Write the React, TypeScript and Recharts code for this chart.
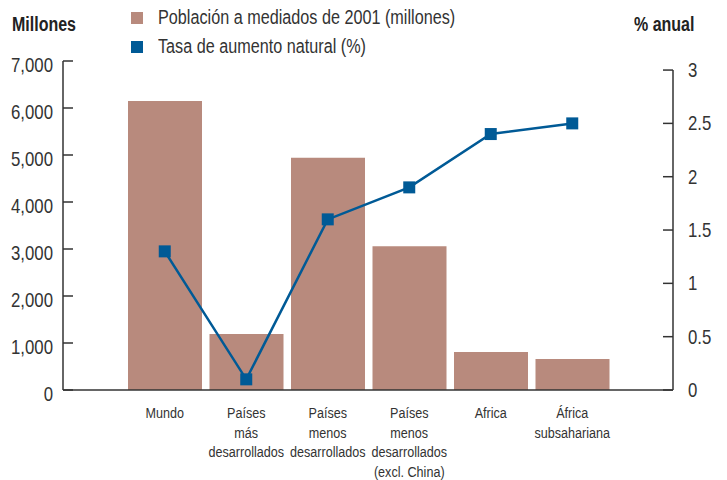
import React from 'react'
import { ComposedChart, Bar, Line, XAxis, YAxis, Legend } from 'recharts'

const categories = [
  'Mundo',
  'Países\nmás\ndesarrollados',
  'Países\nmenos\ndesarrollados',
  'Países\nmenos\ndesarrollados\n(excl. China)',
  'Africa',
  'África\nsubsahariana',
]
const poblacion = [6150, 1190, 4940, 3060, 810, 660]
const tasa = [1.3, 0.1, 1.6, 1.9, 2.4, 2.5]

const millonesTicks = [0, 1000, 2000, 3000, 4000, 5000, 6000, 7000]
const tasaTicks = [0, 0.5, 1, 1.5, 2, 2.5, 3]

const WIDTH = 727
const HEIGHT = 480
const X_AXIS_H = 90
const PLOT_BOTTOM = HEIGHT - X_AXIS_H

// no condensed face is installed, so Liberation Sans is squeezed horizontally
const FONT = "'Liberation Sans', Arial, sans-serif"
const SQUEEZE = 0.84
const TEXT = '#333'
const AXIS = '#333'
const BAR_COLOR = '#b88a7d'
const LINE_COLOR = '#005a96'

const data = categories.map((name, i) => ({
  name,
  poblacion: poblacion[i],
  tasa: tasa[i],
}))

const fmtMiles = (v: number) => v.toLocaleString('en-US')

function Narrow({ x, y, anchor, size, children }: any) {
  return (
    <text
      transform={`translate(${x},${y}) scale(${SQUEEZE},1)`}
      textAnchor={anchor}
      fill={TEXT}
      fontSize={size}
      fontFamily={FONT}
    >
      {children}
    </text>
  )
}

function LeftTick({ x, y, payload }: any) {
  // tick marks point into the plot
  return (
    <g>
      <line x1={x + 10} y1={y} x2={x + 20} y2={y} stroke={AXIS} strokeWidth={1.5} />
      <Narrow x={x} y={y + 11} anchor="end" size={20}>
        {fmtMiles(payload.value)}
      </Narrow>
    </g>
  )
}

function RightTick({ x, y, payload }: any) {
  const axisX = x - 15
  return (
    <g>
      {payload.value === tasaTicks[tasaTicks.length - 1] && (
        <line x1={axisX} y1={y} x2={axisX} y2={PLOT_BOTTOM} stroke={AXIS} strokeWidth={1.5} />
      )}
      <line x1={axisX - 10} y1={y} x2={axisX} y2={y} stroke={AXIS} strokeWidth={1.5} />
      <Narrow x={x} y={y + 7} anchor="start" size={20}>
        {payload.value}
      </Narrow>
    </g>
  )
}

function CategoryTick({ x, y, payload }: any) {
  const lines = String(payload.value).split('\n')
  return (
    <g>
      {lines.map((l, i) => (
        <Narrow key={i} x={x} y={y + 28 + i * 19.5} anchor="middle" size={15}>
          {l}
        </Narrow>
      ))}
    </g>
  )
}

function SquareDot({ cx, cy }: any) {
  if (cx == null || cy == null) return null
  return <rect x={cx - 6} y={cy - 6} width={12} height={12} fill={LINE_COLOR} />
}

function LegendBox({ payload }: any) {
  return (
    <div style={{ fontFamily: FONT, fontSize: 20, color: TEXT }}>
      {(payload || []).map((entry: any) => (
        <div key={entry.value} style={{ display: 'flex', alignItems: 'center', height: 29 }}>
          <span style={{ width: 12, height: 12, background: entry.color, marginRight: 15, flex: 'none' }} />
          <span style={{ display: 'inline-block', transform: 'scaleX(0.81)', transformOrigin: 'left center', whiteSpace: 'nowrap' }}>
            {entry.value}
          </span>
        </div>
      ))}
    </div>
  )
}

const titleStyle: React.CSSProperties = {
  position: 'absolute',
  top: 13,
  fontFamily: FONT,
  fontWeight: 'bold',
  fontSize: 20,
  color: '#222',
  whiteSpace: 'nowrap',
  transform: 'scaleX(0.8)',
  transformOrigin: 'left center',
}

export default function App() {
  return (
    <div style={{ position: 'absolute', left: 0, top: 0, width: WIDTH, height: HEIGHT, background: '#fff' }}>
      <div style={{ ...titleStyle, left: 12 }}>Millones</div>
      <div style={{ ...titleStyle, left: 634 }}>% anual</div>
      <ComposedChart
        width={WIDTH}
        height={HEIGHT}
        data={data}
        margin={{ top: 61, right: 0, bottom: 0, left: 0 }}
        barGap={0}
      >
        <XAxis
          dataKey="name"
          height={X_AXIS_H}
          padding={{ left: 61, right: 60 }}
          axisLine={{ stroke: AXIS, strokeWidth: 1.5 }}
          tickLine={false}
          tickSize={0}
          tickMargin={0}
          interval={0}
          tick={<CategoryTick />}
        />
        <YAxis
          yAxisId="left"
          width={63}
          domain={[0, 7000]}
          ticks={millonesTicks}
          axisLine={{ stroke: AXIS, strokeWidth: 1.5 }}
          tickLine={false}
          tickSize={10}
          tickMargin={0}
          tick={<LeftTick />}
        />
        <YAxis
          yAxisId="right"
          orientation="right"
          width={54}
          domain={[0, 3.085]}
          ticks={tasaTicks}
          axisLine={false}
          tickLine={false}
          tickSize={10}
          tickMargin={5}
          tick={<RightTick />}
        />
        <Legend
          layout="vertical"
          align="center"
          verticalAlign="middle"
          wrapperStyle={{ top: 3, left: 131, width: 420 }}
          content={<LegendBox />}
        />
        <Bar
          yAxisId="left"
          dataKey="poblacion"
          name="Población a mediados de 2001 (millones)"
          fill={BAR_COLOR}
          barSize={74}
          legendType="square"
          isAnimationActive={false}
        />
        <Line
          yAxisId="right"
          dataKey="tasa"
          name="Tasa de aumento natural (%)"
          type="linear"
          stroke={LINE_COLOR}
          strokeWidth={2.5}
          dot={<SquareDot />}
          activeDot={false}
          legendType="square"
          isAnimationActive={false}
        />
      </ComposedChart>
    </div>
  )
}
